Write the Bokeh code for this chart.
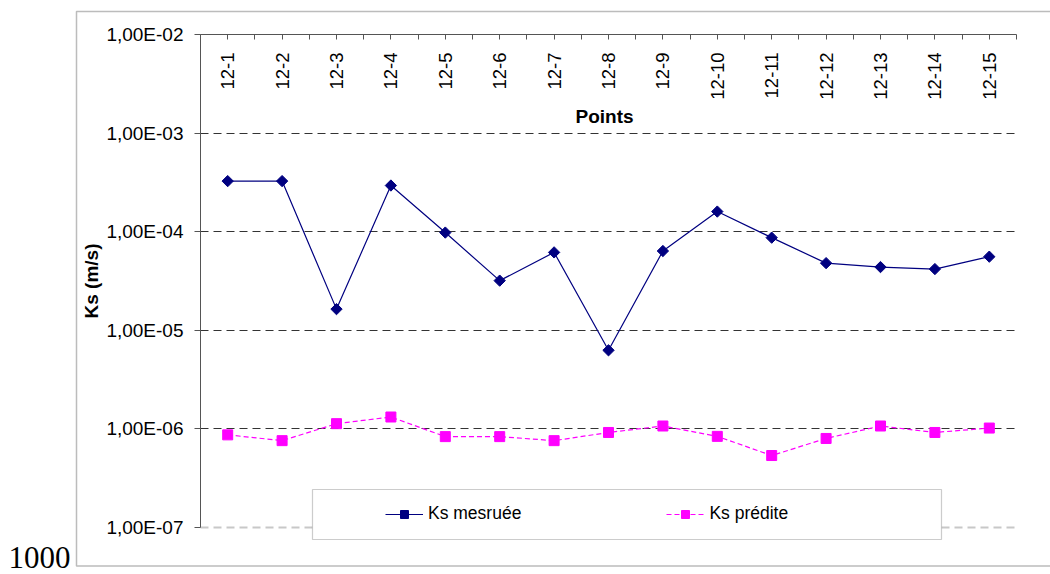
import math
from bokeh.plotting import figure
from bokeh.models import (FixedTicker, CustomJSTickFormatter, BoxAnnotation, Grid,
                          Legend, LegendItem, Label)
from bokeh.core.properties import value
from bokeh.embed import file_html
from bokeh.resources import INLINE

# ---- data ----
points = ["12-1", "12-2", "12-3", "12-4", "12-5", "12-6", "12-7", "12-8",
          "12-9", "12-10", "12-11", "12-12", "12-13", "12-14", "12-15"]
ks_mesuree = [3.26e-4, 3.26e-4, 1.64e-5, 2.94e-4, 9.8e-5, 3.19e-5, 6.17e-5, 6.27e-6,
              6.37e-5, 1.6e-4, 8.7e-5, 4.8e-5, 4.38e-5, 4.18e-5, 5.58e-5]
ks_predite = [8.7e-7, 7.6e-7, 1.13e-6, 1.32e-6, 8.35e-7, 8.35e-7, 7.6e-7, 9.2e-7,
              1.07e-6, 8.4e-7, 5.37e-7, 8.0e-7, 1.07e-6, 9.2e-7, 1.02e-6]
y_ticks = [1e-7, 1e-6, 1e-5, 1e-4, 1e-3, 1e-2]

xs = list(range(1, len(points) + 1))
FONT = "Liberation Sans"

# ---- layout (pixels) ----
W, H = 1050, 574
PLOT_L, PLOT_R, PLOT_T, PLOT_B = 200, 1016, 34, 527

x_lo, x_hi = xs[0] - 0.5, xs[-1] + 0.5
ppu = (PLOT_R - PLOT_L) / (x_hi - x_lo)
xr = (x_lo - PLOT_L / ppu, x_hi + (W - PLOT_R) / ppu)
ly_lo, ly_hi = math.log10(y_ticks[0]), math.log10(y_ticks[-1])
ppd = (PLOT_B - PLOT_T) / (ly_hi - ly_lo)
yr = (10 ** (ly_lo - (H - PLOT_B) / ppd), 10 ** (ly_hi + PLOT_T / ppd))

p = figure(width=W, height=H, output_backend="svg", toolbar_location=None,
           x_range=xr, y_range=yr, y_axis_type="log", x_axis_location="above",
           min_border=0)
p.outline_line_color = None
p.background_fill_color = "white"
p.border_fill_color = "white"

# top x axis (ticks only, labels drawn inside plot)
xa = p.xaxis[0]
xa.fixed_location = y_ticks[-1]
xa.bounds = (x_lo, x_hi)
xa.ticker = FixedTicker(ticks=xs, minor_ticks=[x - 0.5 for x in xs] + [xs[-1] + 0.5])
xa.formatter = CustomJSTickFormatter(code="return '';")
xa.axis_line_color = "#555555"
xa.major_tick_line_color = "#555555"
xa.minor_tick_line_color = "#555555"
xa.major_tick_in = 5
xa.major_tick_out = 0
xa.minor_tick_in = 5
xa.minor_tick_out = 0
xa.major_label_text_font_size = "1px"

# left y axis
ya = p.yaxis[0]
ya.fixed_location = x_lo
ya.bounds = (y_ticks[0], y_ticks[-1])
ya.ticker = FixedTicker(ticks=y_ticks, minor_ticks=[])
ya.formatter = CustomJSTickFormatter(code="""
const s = tick.toExponential(2).split('e');
const m = s[0].replace('.', ',');
const e = parseInt(s[1]);
const sign = e < 0 ? '-' : '+';
const a = Math.abs(e);
return m + 'E' + sign + (a < 10 ? '0' + a : '' + a);
""")
ya.axis_line_color = "#555555"
ya.major_tick_line_color = "#555555"
ya.major_tick_in = 0
ya.major_tick_out = 6
ya.major_label_standoff = 11
ya.major_label_text_font = FONT
ya.major_label_text_font_size = "19px"
ya.major_label_text_color = "black"

# grid
p.xgrid.visible = False
p.ygrid.ticker = FixedTicker(ticks=y_ticks[1:-1], minor_ticks=[])
p.ygrid.grid_line_color = "#333333"
p.ygrid.grid_line_dash = "8 5"
p.ygrid.grid_line_width = 1
p.ygrid.cross_bounds = (x_lo, x_hi)
g2 = Grid(dimension=1, ticker=FixedTicker(ticks=y_ticks[:1], minor_ticks=[]),
          grid_line_color="#c8c8c8", grid_line_dash="8 5", grid_line_width=2,
          cross_bounds=(x_lo, x_hi))
p.add_layout(g2)

# category labels inside the plot (rotated)
p.text(x=xs, y=[y_ticks[-1]] * len(xs), text=points, angle=math.pi / 2,
       text_align="right", text_baseline="middle", y_offset=18,
       text_font=value(FONT), text_font_size="18.5px", text_color="black")
p.text(x=[sum(xs) / len(xs)], y=[y_ticks[-1]], text=["Points"], x_offset=-4, y_offset=82,
       text_align="center", text_baseline="middle",
       text_font=value(FONT), text_font_size="19px", text_font_style="bold",
       text_color="black")

# series
l1 = p.line(xs, ks_mesuree, line_color="#000080", line_width=1.2)
s1 = p.scatter(xs, ks_mesuree, marker="square", angle=math.pi / 4, size=8,
               fill_color="#000080", line_color="#000080")
l2 = p.line(xs, ks_predite, line_color="#ff00ff", line_width=1.2, line_dash="5 3")
s2 = p.scatter(xs, ks_predite, marker="square", size=10,
               fill_color="#ff00ff", line_color="#ff00ff")

# legend box
p.add_layout(BoxAnnotation(left=312, right=941, top=489, bottom=539,
                           left_units="canvas", right_units="canvas",
                           top_units="canvas", bottom_units="canvas",
                           fill_color="white", fill_alpha=1.0,
                           line_color="#555555", line_width=1.2))
legend = Legend(items=[LegendItem(label="Ks mesruée", renderers=[l1, s1]),
                       LegendItem(label="Ks prédite", renderers=[l2, s2])],
                orientation="horizontal", location=(385, H - 524),
                glyph_width=38, glyph_height=20, label_height=20, label_standoff=5,
                spacing=145, padding=0, margin=0,
                border_line_color=None, background_fill_alpha=0,
                label_text_font=FONT, label_text_font_size="17.5px",
                label_text_color="black")
p.add_layout(legend, "center")

# outer chart border
p.add_layout(BoxAnnotation(left=76, right=W + 50, top=11, bottom=565.5,
                           left_units="canvas", right_units="canvas",
                           top_units="canvas", bottom_units="canvas",
                           fill_alpha=0, line_color="#222222", line_width=1.5))

# y axis title
p.add_layout(Label(x=91, y=(PLOT_T + PLOT_B) / 2, x_units="canvas", y_units="canvas",
                   text="Ks (m/s)", angle=math.pi / 2, text_align="center",
                   text_baseline="middle", text_font=FONT, text_font_size="19px",
                   text_font_style="bold", text_color="black"))

p.add_layout(Label(x=8, y=546, x_units="canvas", y_units="canvas", text="1000",
                   text_font="Liberation Serif", text_font_size="31px",
                   text_baseline="top", text_align="left", text_color="black"))

open("out.html", "w").write(file_html(p, INLINE))
